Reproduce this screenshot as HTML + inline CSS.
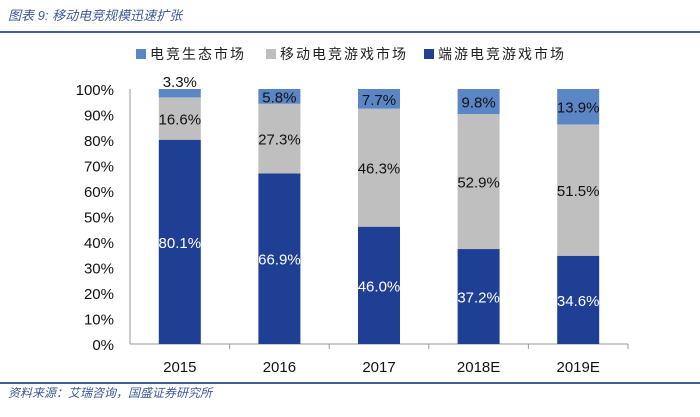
<!DOCTYPE html>
<html><head><meta charset="utf-8"><style>
body{margin:0;background:#fff;}
svg{display:block;font-family:"Liberation Sans","Noto Sans CJK SC",sans-serif;}
</style></head><body>
<svg id="c" width="700" height="417">
<text x="8" y="20" font-size="13" font-style="italic" fill="#3a5a9a">图表 9:  移动电竞规模迅速扩张</text>
<rect x="0" y="31" width="700" height="2" fill="#3d5f9a"/>
<rect x="0" y="382" width="700" height="2" fill="#3d5f9a"/>
<text x="8" y="397" font-size="12" font-style="italic" fill="#3a5a9a">资料来源：艾瑞咨询，国盛证券研究所</text>
<g id="legend">
<rect x="136" y="49" width="10" height="10" fill="#5b86c5"/>
<text x="150" y="59" font-size="14" letter-spacing="2" fill="#222">电竞生态市场</text>
<rect x="266" y="49" width="10" height="10" fill="#bfbfbf"/>
<text x="280" y="59" font-size="14" letter-spacing="2" fill="#222">移动电竞游戏市场</text>
<rect x="424" y="49" width="10" height="10" fill="#1f3f95"/>
<text x="438" y="59" font-size="14" letter-spacing="2" fill="#222">端游电竞游戏市场</text>
</g>
<g id="plot"></g>
</svg>
<script>
const categories=["2015","2016","2017","2018E","2019E"];
const pcValues=[80.1,66.9,46.0,37.2,34.6];
const mobileValues=[16.6,27.3,46.3,52.9,51.5];
const ecoValues=[3.3,5.8,7.7,9.8,13.9];
const yTicks=[0,10,20,30,40,50,60,70,80,90,100];
const NS="http://www.w3.org/2000/svg";
const g=document.getElementById('plot');
const x0=130,x1=628,yTop=89,yBot=344;
const step=(x1-x0)/categories.length;
function xc(i){return x0+step*(i+0.5);}
function y(v){return yBot-(yBot-yTop)*v/100;}
function mk(t,a,p){const e=document.createElementNS(NS,t);for(const k in a)e.setAttribute(k,a[k]);(p||g).appendChild(e);return e;}
yTicks.forEach(v=>{
 const t=mk('text',{x:114,y:y(v)+6,'text-anchor':'end','font-size':15,fill:'#111'});
 t.textContent=v+'%';
 
 
});
const ax=mk('line',{x1:x0,y1:yTop,x2:x0,y2:yBot,stroke:'#999'});


const xa=mk('line',{x1:x0,y1:yBot,x2:x1,y2:yBot,stroke:'#999'});


const bw=42;
categories.forEach((c,i)=>{
 const cx=xc(i);
 const tot=pcValues[i]+mobileValues[i]+ecoValues[i];
 const segs=[[pcValues[i],'#1f3f95','pc'],[mobileValues[i],'#bfbfbf','mobile'],[ecoValues[i],'#5b86c5','eco']];
 let acc=0;
 segs.forEach(([v,col,nm])=>{
  const vv=v/tot*100;
  const r=mk('rect',{x:cx-bw/2,y:y(acc+vv),width:bw,height:y(acc)-y(acc+vv),fill:col});
  
  
  let ly=y(acc+vv/2)+6;
  if(nm==='eco'&&vv<5)ly=y(100)-2;
  const t=mk('text',{x:cx,y:ly,'text-anchor':'middle','font-size':15,fill:nm==='pc'?'#fff':'#111'});
  t.textContent=v.toFixed(1)+'%';
  
  
  acc+=vv;
 });
 const tk=mk('line',{x1:x0+step*(i+1),y1:yBot,x2:x0+step*(i+1),y2:yBot+5,stroke:'#999'});
 
 
 const lb=mk('text',{x:cx,y:372,'text-anchor':'middle','font-size':15,fill:'#111'});
 lb.textContent=c;
 
 
});
</script>
</body></html>
